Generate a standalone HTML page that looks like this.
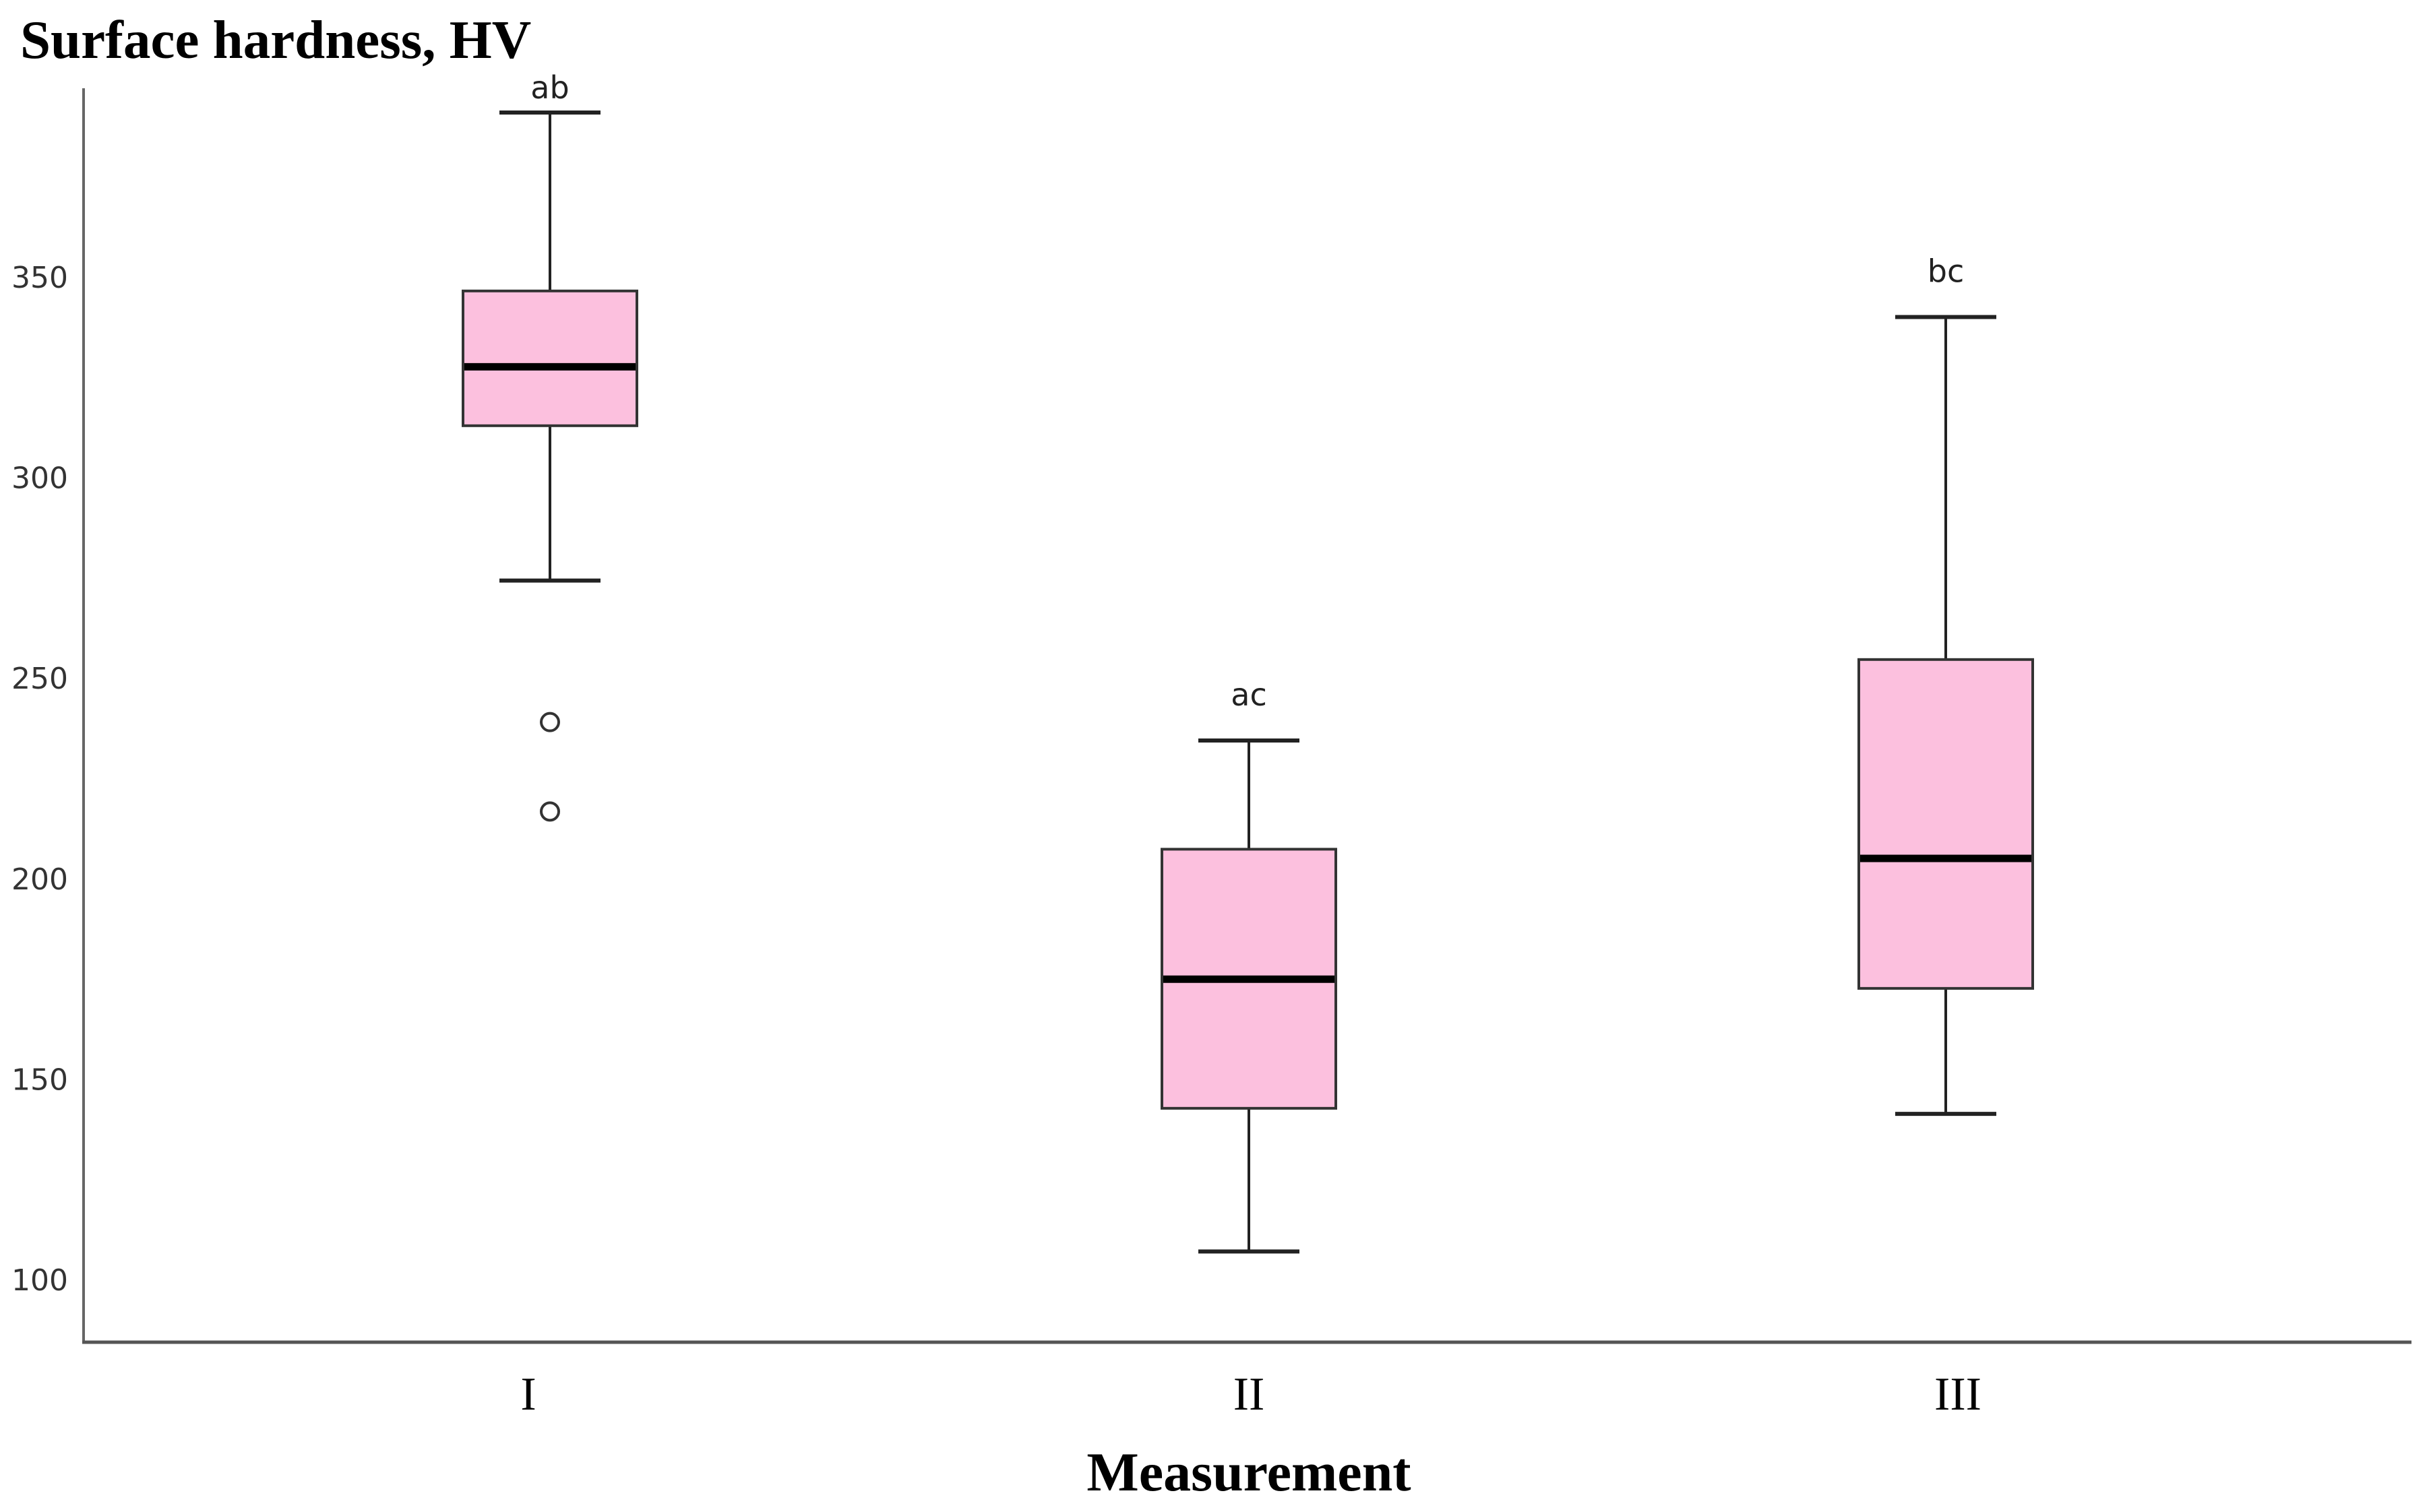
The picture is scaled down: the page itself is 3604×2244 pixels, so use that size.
<!DOCTYPE html>
<html><head><meta charset="utf-8"><style>
html,body{margin:0;padding:0;background:#fff;}
svg{display:block;}
</style></head><body>
<svg id="chart" width="3604" height="2244" viewBox="0 0 3604 2244" xmlns="http://www.w3.org/2000/svg">
<text x="30" y="86" font-family="Liberation Serif, serif" font-weight="bold" font-size="81" fill="#000">Surface hardness, HV</text>
<line x1="124" y1="131" x2="124" y2="1992" stroke="#666" stroke-width="4"/>
<line x1="122" y1="1992" x2="3578" y2="1992" stroke="#555" stroke-width="5"/>
<g id="yticks"></g>
<g id="boxes"></g>
<text x="1853" y="2212" text-anchor="middle" font-family="Liberation Serif, serif" font-weight="bold" font-size="82" fill="#000">Measurement</text>
</svg>
<script>
const categories = ["I","II","III"];
const whiskerHigh = [391, 234.4, 340];
const q3 = [346.5, 207.3, 254.6];
const median = [327.6, 174.9, 205];
const q1 = [312.9, 142.7, 172.6];
const whiskerLow = [274.3, 107, 141.3];
const outliers = [[239, 216.7], [], []];
const groupLetters = ["ab","ac","bc"];
const yTicks = [100,150,200,250,300,350];

const NS = "http://www.w3.org/2000/svg";
function y(v){ return 411 + (350 - v) * (1488/250); }
function x(i){ return [816, 1853, 2887][i]; }
function mk(tag, attrs, parent){ const e=document.createElementNS(NS,tag); for(const k in attrs) e.setAttribute(k, attrs[k]); parent.appendChild(e); return e; }

const yt = document.getElementById('yticks');
yTicks.forEach(t=>{
  const e = mk('text',{x:101,y:y(t)+16,'text-anchor':'end','font-family':'DejaVu Sans, sans-serif','font-size':'44',fill:'#333'},yt);
  
  
  e.textContent = t;
});

const g = document.getElementById('boxes');
const bw = 258, cap = 75;
categories.forEach((c,i)=>{
  const cx = x(i);
  const w1 = mk('line',{x1:cx,y1:y(whiskerHigh[i]),x2:cx,y2:y(q3[i]),stroke:'#222','stroke-width':4},g);
  
  
  const w2 = mk('line',{x1:cx,y1:y(q1[i]),x2:cx,y2:y(whiskerLow[i]),stroke:'#222','stroke-width':4},g);
  
  
  const c1 = mk('line',{x1:cx-cap,y1:y(whiskerHigh[i]),x2:cx+cap,y2:y(whiskerHigh[i]),stroke:'#222','stroke-width':6},g);
  
  
  const c2 = mk('line',{x1:cx-cap,y1:y(whiskerLow[i]),x2:cx+cap,y2:y(whiskerLow[i]),stroke:'#222','stroke-width':6},g);
  
  
  const r = mk('rect',{x:cx-bw/2,y:y(q3[i]),width:bw,height:y(q1[i])-y(q3[i]),fill:'#fcc0de',stroke:'#333','stroke-width':4},g);
  
  
  const m = mk('line',{x1:cx-bw/2+2,y1:y(median[i]),x2:cx+bw/2-2,y2:y(median[i]),stroke:'#000','stroke-width':11},g);
  
  
  outliers[i].forEach(o=>{
    const p = mk('circle',{cx:cx,cy:y(o),r:13,fill:'none',stroke:'#333','stroke-width':4},g);
    
    
  });
  const ly = Math.max(y(whiskerHigh[i]) - 52, 146);
  const l = mk('text',{x:cx,y:ly,'text-anchor':'middle','font-family':'DejaVu Sans, sans-serif','font-size':'46',fill:'#222'},g);
  
  
  l.textContent = groupLetters[i];
  const cl = mk('text',{x:[784,1853,2905][i],y:2092,'text-anchor':'middle','font-family':'Liberation Serif, serif','font-size':'70',fill:'#000'},g);
  
  
  cl.textContent = c;
});
</script>
</body></html>
